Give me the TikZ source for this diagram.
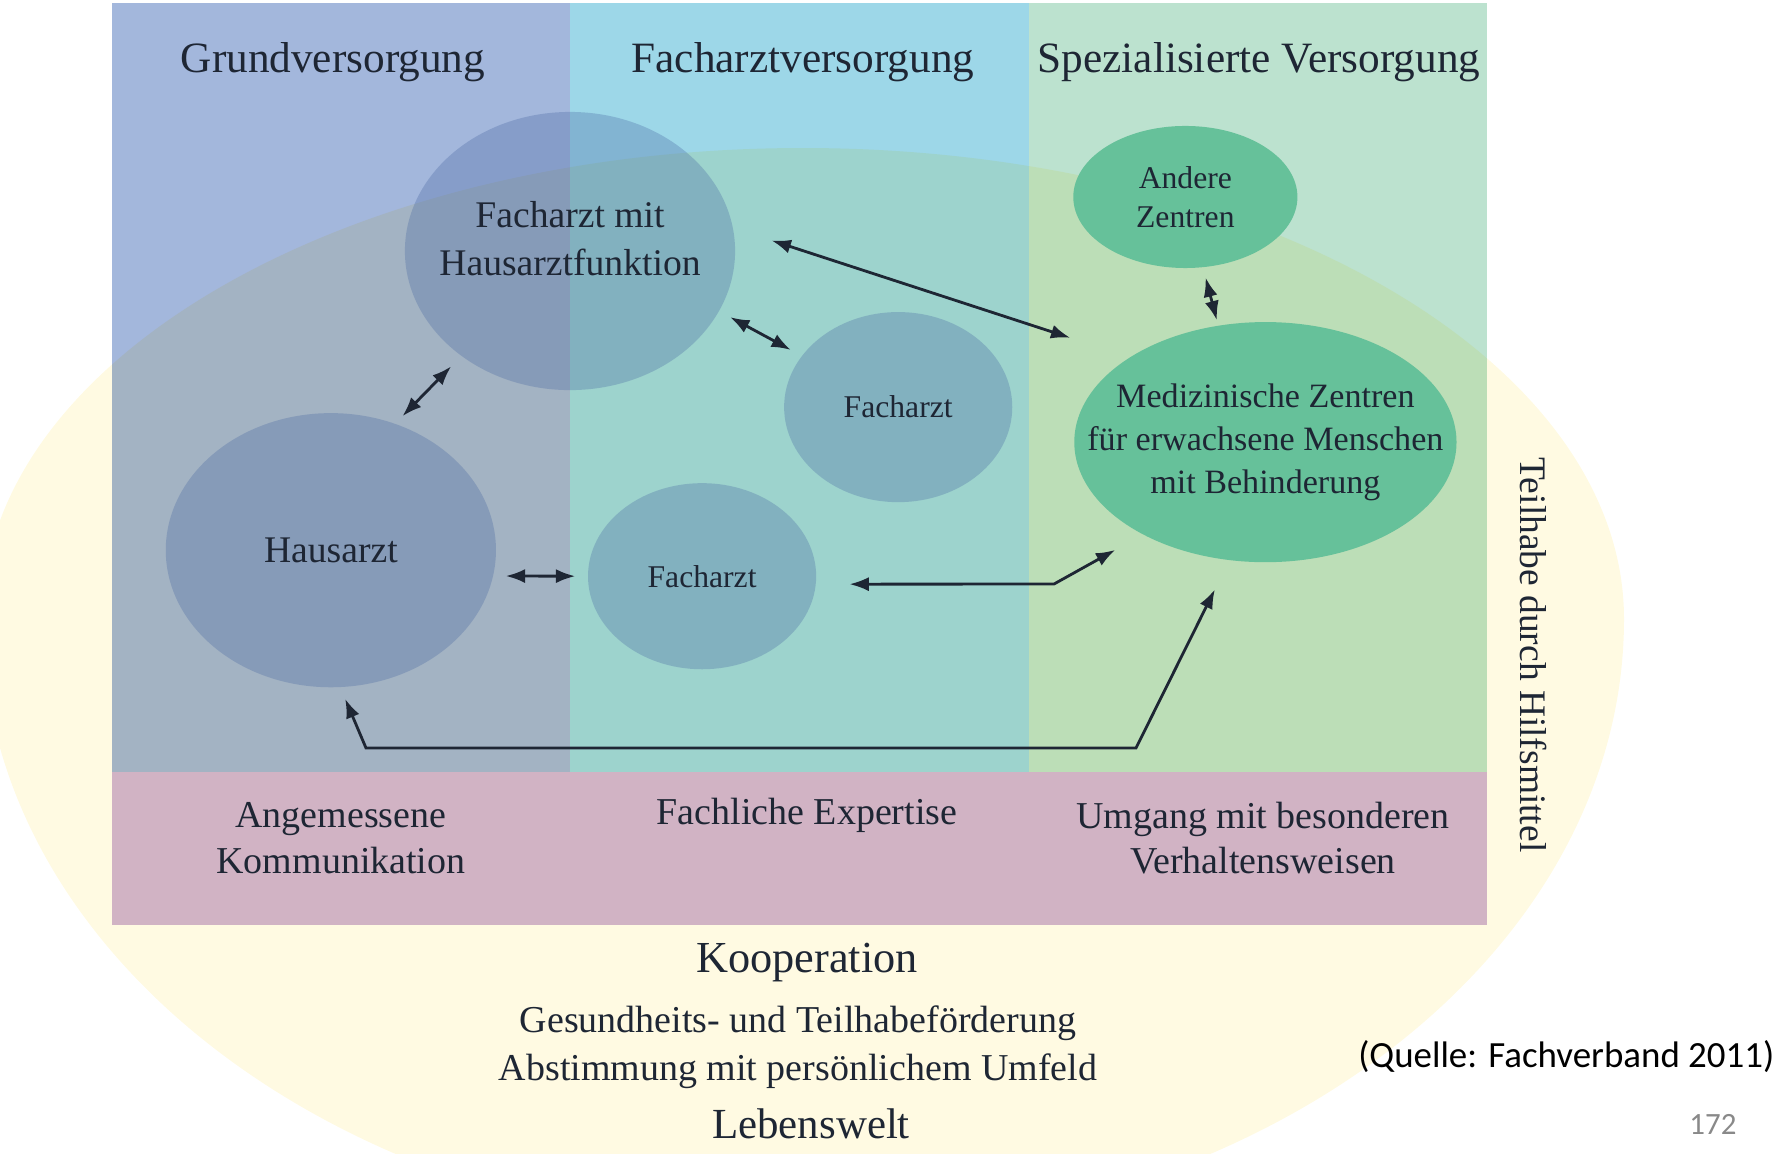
\documentclass[tikz,border=0pt]{standalone}
\usepackage{fontspec}
\setmainfont{Liberation Serif}
\newfontfamily\notefont{Carlito}
\usepackage{tikz}
\usetikzlibrary{positioning,shapes.geometric,arrows.meta}
\definecolor{lebenswelt}{RGB}{255,250,226}
\definecolor{grundblau}{RGB}{163,183,220}
\definecolor{grundblauin}{RGB}{163,179,195}
\definecolor{fachtuerkis}{RGB}{157,215,232}
\definecolor{fachtuerkisin}{RGB}{157,211,205}
\definecolor{spezgruen}{RGB}{188,226,207}
\definecolor{spezgruenin}{RGB}{188,222,183}
\definecolor{altrosa}{RGB}{209,179,196}
\definecolor{arztblau}{RGB}{70,100,160}
\definecolor{zentrumgruen}{RGB}{102,193,154}
\definecolor{tinte}{RGB}{30,38,52}
\definecolor{seitengrau}{RGB}{137,137,137}

\begin{document}
\begin{tikzpicture}[x=0.01cm, y=-0.01cm, on grid,
	link/.style={{Latex[length=5.5pt,width=4pt]}-{Latex[length=5.5pt,width=4pt]}, line width=0.8pt, draw=tinte},
	arzt/.style={ellipse, fill=arztblau, fill opacity=0.3, text opacity=1, text=tinte, inner sep=-1cm, align=center, font=\fontsize{10.7}{13.7}\selectfont},
	zentrum/.style={ellipse, fill=zentrumgruen, text=tinte, inner sep=-1cm, align=center},
	titel/.style={text=tinte, font=\fontsize{12.3}{14}\selectfont},
	leiste/.style={text=tinte, align=center, font=\fontsize{10.8}{13}\selectfont}]
	\useasboundingbox (0,0) rectangle (1787,1153);
	% Lebenswelt im Hintergrund
	\fill[lebenswelt] (1624,619) arc[start angle=0, end angle=-180, x radius=821, y radius=471] arc[start angle=180, end angle=0, x radius=821, y radius=616] -- cycle;
	% drei Versorgungsspalten
	\fill[grundblau] (112,3) rectangle (570,772);
	\fill[fachtuerkis] (570,3) rectangle (1029,772);
	\fill[spezgruen] (1029,3) rectangle (1487,772);
	\begin{scope}
		\clip (1624,619) arc[start angle=0, end angle=-180, x radius=821, y radius=471] arc[start angle=180, end angle=0, x radius=821, y radius=616] -- cycle;
		\fill[grundblauin] (112,3) rectangle (570,772);
		\fill[fachtuerkisin] (570,3) rectangle (1029,772);
		\fill[spezgruenin] (1029,3) rectangle (1487,772);
	\end{scope}
	\fill[altrosa] (112,772) rectangle (1487,925);

	\node[titel] (grund) at (333,62) {Grundversorgung};
	\node[titel] (fach) at (803,62) {Facharztversorgung};
	\node[titel] (spez) at (1259,62) {Spezialisierte Versorgung};

	% Aerzte und Zentren
	\node[arzt, minimum width=3.3cm, minimum height=2.78cm] (fmh) at (570,251) {};
	\node[text=tinte, align=center, font=\fontsize{10.7}{13.7}\selectfont] (fmhtext) at ([yshift=1.25mm]fmh.center) {Facharzt mit\\Hausarztfunktion};
	\node[arzt, minimum width=3.3cm, minimum height=2.74cm] (ha) [below left=2.99cm and 2.39cm of fmh] {Hausarzt};
	\node[arzt, minimum width=2.28cm, minimum height=1.9cm, font=\fontsize{9}{11}\selectfont] (f1) [below right=1.56cm and 3.28cm of fmh] {Facharzt};
	\node[arzt, minimum width=2.28cm, minimum height=1.86cm, font=\fontsize{9}{11}\selectfont] (f2) [below right=0.26cm and 3.71cm of ha] {Facharzt};
	\node[zentrum, minimum width=3.82cm, minimum height=2.4cm, font=\fontsize{9.7}{12.3}\selectfont] (med) [below right=0.35cm and 3.67cm of f1] {Medizinische Zentren\\für erwachsene Menschen\\mit Behinderung};
	\node[zentrum, minimum width=2.24cm, minimum height=1.42cm, font=\fontsize{9}{11}\selectfont] (andere) [above left=2.45cm and 0.80cm of med] {Andere\\Zentren};

	\coordinate (k1) at (1054,584);
	\coordinate (k2) at (366,748);
	\coordinate (k3) at (1136,748);
	\path (fmh.8) edge[link, shorten <=4mm, shorten >=6.2mm] (med.148);
	\path (fmh.-22) edge[link, shorten <=1.2mm, shorten >=1.2mm] (f1.152);
	\path (fmh.224) edge[link, shorten <=1.4mm, shorten >=1mm] (ha.63);
	\path (ha.-9) edge[link, shorten <=1.2mm, shorten >=1.2mm] (f2.west);
	\path (andere.-76) edge[link, shorten <=1mm, shorten >=0.5mm] (med.112);
	\draw[link, shorten <=3.3mm, shorten >=3.1mm] (f2.-4) -- (k1) -- (med.217);
	\draw[link, shorten <=1.2mm, shorten >=3.2mm] (ha.-86) -- (k2) -- (k3) -- (med.253);

	% untere Leiste
	\node[leiste] (komm) at (341,838) {Angemessene\\Kommunikation};
	\node[leiste] (exp) at (807,815) {Fachliche Expertise};
	\node[leiste] (verh) at (1263,838) {Umgang mit besonderen\\Verhaltensweisen};

	\node[text=tinte, font=\fontsize{12.6}{15}\selectfont] (koop) at (807,963) {Kooperation};
	\node[leiste] (gesund) at (798,1023) {Gesundheits- und Teilhabeförderung};
	\node[leiste] (umfeld) at (798,1071) {Abstimmung mit persönlichem Umfeld};
	\node[text=tinte, font=\fontsize{12.2}{15}\selectfont] (leben) at (811,1124) {Lebenswelt};
	\node[text=tinte, rotate=-90, font=\fontsize{10.65}{13}\selectfont] (hilfs) at (1533,655) {Teilhabe durch Hilfsmittel};

	\node[anchor=east, inner sep=0pt, font=\notefont\fontsize{10.5}{12}\selectfont] (quelle) at (1775,1057) {(Quelle: Fachverband 2011)};
	\node[text=seitengrau, font=\notefont\fontsize{8.8}{10}\selectfont] (seite) at (1713,1124) {172};
\end{tikzpicture}
\end{document}
